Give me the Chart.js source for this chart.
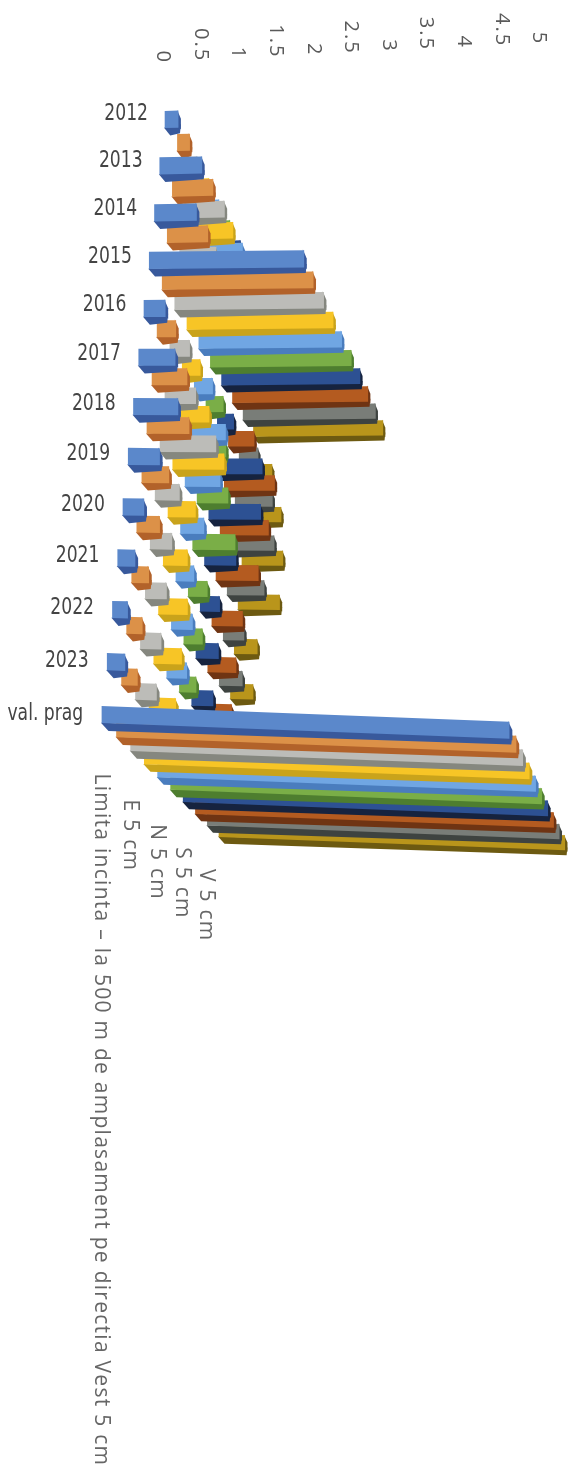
<!DOCTYPE html>
<html>
<head>
<meta charset="utf-8">
<style>
  html, body { margin: 0; background: #fff; }
  canvas { display: block; filter: blur(0.5px); }
</style>
<script src="https://cdn.jsdelivr.net/npm/chart.js@4/dist/chart.umd.js"></script>
</head>
<body>
<canvas id="chart" width="573" height="1479"></canvas>
<script>
// --- Data ---
const years = ['2012','2013','2014','2015','2016','2017','2018','2019','2020','2021','2022','2023','val. prag'];
const valueTicks = [0, 0.5, 1, 1.5, 2, 2.5, 3, 3.5, 4, 4.5, 5];
// only every second series name is printed on the depth axis of the original
const seriesLabels = ['Limita incinta – la 500 m de amplasament pe directia Vest 5 cm', '', 'E 5 cm', '', 'N 5 cm', '', 'S 5 cm', '', 'V 5 cm', ''];

const blueVals      = [0.19, 0.60, 0.59, 2.14, 0.29, 0.49, 0.59, 0.41, 0.27, 0.22, 0.19, 0.22, 5];
const orangeVals    = [0.18, 0.59, 0.58, 2.13, 0.26, 0.48, 0.57, 0.36, 0.30, 0.22, 0.20, 0.20, 5];
const grayVals      = [0.12, 0.59, 0.53, 2.14, 0.28, 0.43, 0.77, 0.33, 0.29, 0.28, 0.27, 0.27, 5];
const yellowVals    = [0.12, 0.55, 0.50, 2.14, 0.26, 0.45, 0.72, 0.38, 0.33, 0.39, 0.37, 0.35, 5];
const skyVals       = [0.10, 0.53, 0.50, 2.13, 0.27, 0.52, 0.50, 0.33, 0.25, 0.29, 0.27, 0.30, 5];
const greenVals     = [0.10, 0.50, 0.50, 2.14, 0.26, 0.36, 0.45, 0.61, 0.27, 0.26, 0.23, 0.30, 5];
const navyVals      = [0.10, 0.50, 0.50, 2.14, 0.25, 0.74, 0.77, 0.46, 0.28, 0.32, 0.30, 0.30, 5];
const brownVals     = [0.10, 0.50, 0.50, 2.13, 0.40, 0.77, 0.73, 0.63, 0.45, 0.41, 0.40, 0.30, 5];
const darkGrayVals  = [0.10, 0.50, 0.50, 2.12, 0.30, 0.58, 0.66, 0.56, 0.31, 0.34, 0.30, 0.30, 5];
const oliveVals     = [0.10, 0.50, 0.50, 2.11, 0.36, 0.56, 0.64, 0.64, 0.35, 0.34, 0.30, 0.30, 5];

const seriesVals = [blueVals, orangeVals, grayVals, yellowVals, skyVals, greenVals, navyVals, brownVals, darkGrayVals, oliveVals];
const faceColors = ['#5b88cb','#dc9148','#bcbcb8','#f7c526','#70a6e3','#7aae47','#2d5193','#b45b20','#797d78','#b9951b'];
const sideColors = ['#38599c','#b2622a','#85877f','#c9a31b','#4a7dbe','#4e7e2f','#16233f','#6f3413','#3e4340','#6d5a11'];

// --- Perspective of the photographed 3D chart ---
const PX_PER_UNIT = 75;
const VANISH_Y = 1680;
const depthScale = s => 1 / (1 + 0.015 * s);
const vanishX = r => 1005 + 6.7 * r;
const rowBaseX = r => 165 - 5.25 * r;
const rowUnit = r => 69 + 1.017 * r;
const rowTilt = r => -0.01 + 0.0054 * (r - 3);

// rows get wider apart towards the bottom of the page
const CategoryScale = Chart.registry.getScale('category');
class RowScale extends CategoryScale {
  static id = 'rowScale';
  static defaults = CategoryScale.defaults;
  getPixelForDecimal(d) { return super.getPixelForDecimal(0.9294 * d + 0.0706 * d * d); }
}
Chart.register(RowScale);

function barOrigin(el, r, s) {
  const p = depthScale(s), vx = vanishX(r);
  return { x: vx - (vx - rowBaseX(r)) * p, y: VANISH_Y - (VANISH_Y - el.y) * p, p };
}

function drawBox(ctx, el, r, s) {
  const o = barOrigin(el, r, s);
  const ux = rowUnit(r) / PX_PER_UNIT * o.p * (1 - 0.004 * s);
  const uy = ux * rowTilt(r);
  ctx.save();
  ctx.transform(ux, uy, 0, o.p, o.x - el.base * ux, o.y - el.base * uy - el.y * o.p);
  const h = el.height / 2, l = el.base, e = el.x;
  const top = el.y - h, bot = el.y + h;
  const run = e - l;
  ctx.fillStyle = sideColors[s];
  // underside strip
  ctx.beginPath();
  ctx.moveTo(l - 1, bot);
  ctx.lineTo(e + 3, bot - 3);
  ctx.lineTo(e + 2, bot + 6);
  ctx.lineTo(l + Math.min(6, run * 0.4), bot + 8);
  ctx.closePath();
  ctx.fill();
  // end cap
  ctx.beginPath();
  ctx.moveTo(e - 1, top - 1);
  ctx.lineTo(e + 3, top + 8);
  ctx.lineTo(e + 3, bot + 2);
  ctx.lineTo(e - 1, bot);
  ctx.closePath();
  ctx.fill();
  el.draw(ctx);
  ctx.restore();
}

const box3d = {
  id: 'box3d',
  // painter's order: upper rows first, and inside a row the back series first
  beforeDatasetDraw() { return false; },
  afterDatasetsDraw(chart) {
    const ctx = chart.ctx;
    years.forEach((y, r) => {
      for (let s = seriesVals.length - 1; s >= 0; s--) {
        drawBox(ctx, chart.getDatasetMeta(s).data[r], r, s);
      }
    });
  },
  afterDraw(chart) {
    const ctx = chart.ctx, xs = chart.scales.x, ys = chart.scales.y;
    ctx.save();
    ctx.fillStyle = '#5a5a5a';
    // value axis, rotated and slightly slanted like the scan
    ctx.font = '20px "Open Sans"';
    ctx.letterSpacing = '2px';
    ctx.textAlign = 'right';
    ctx.textBaseline = 'middle';
    valueTicks.forEach(v => {
      const x = xs.getPixelForValue(v);
      ctx.save();
      ctx.translate(x, 64 - 0.05 * (x - xs.left));
      ctx.rotate(Math.PI / 2);
      ctx.fillText(String(v), 0, 0);
      ctx.restore();
    });
    // year labels
    ctx.font = '23px "DejaVu Sans Condensed"';
    ctx.letterSpacing = '0px';
    ctx.fillStyle = '#444';
    years.forEach((y, r) => {
      ctx.save();
      ctx.translate(148 - 5.4 * r, ys.getPixelForValue(r) - 5 + 0.4 * r);
      ctx.scale(0.83, 1);
      ctx.fillText(y, 0, 0);
      ctx.restore();
    });
    // series names
    ctx.font = '21px "Open Sans"';
    ctx.letterSpacing = '1.27px';
    ctx.textAlign = 'left';
    ctx.fillStyle = '#666';
    seriesLabels.forEach((name, s) => {
      if (!name) return;
      const o = barOrigin({ y: ys.getPixelForValue(years.length - 1) }, years.length - 1, s);
      ctx.save();
      ctx.translate(o.x - 1, o.y + 59 - s);
      ctx.rotate(Math.PI / 2);
      ctx.fillText(name, 0, 0);
      ctx.restore();
    });
    ctx.restore();
  }
};

// --- Chart ---
new Chart(document.getElementById('chart'), {
  type: 'bar',
  data: {
    labels: years,
    datasets: seriesVals.map((vals, s) => ({
      label: seriesLabels[s],
      data: vals,
      backgroundColor: faceColors[s],
      barThickness: 16.5,
      grouped: false
    }))
  },
  options: {
    indexAxis: 'y',
    responsive: false,
    animation: false,
    layout: { padding: { left: 163, right: 34, top: 119.5, bottom: 764.5 } },
    plugins: { legend: { display: false }, tooltip: { enabled: false } },
    scales: {
      x: { display: false, position: 'top', min: 0, max: 5, ticks: { stepSize: 0.5 } },
      y: { display: false, type: 'rowScale', offset: false }
    }
  },
  plugins: [box3d]
});
</script>
</body>
</html>
